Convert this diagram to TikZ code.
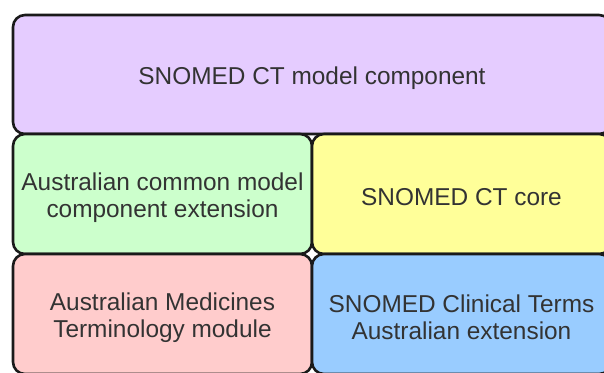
\documentclass[tikz,border=0pt]{standalone}
\usepackage{fontspec}
\setmainfont{Liberation Sans}
\definecolor{cpurple}{HTML}{E5CCFF}
\definecolor{cgreen}{HTML}{CCFFCC}
\definecolor{cyellow}{HTML}{FFFF99}
\definecolor{cpink}{HTML}{FFCCCC}
\definecolor{cblue}{HTML}{99CCFF}
\definecolor{ctext}{HTML}{333333}
\definecolor{cline}{HTML}{1A1A1A}
\tikzset{
  box/.style={rectangle, draw=cline, line width=2.6pt, rounded corners=12pt,
    inner sep=0pt, outer sep=0pt},
  boxtext/.style={align=center, text=ctext, inner sep=0pt, yshift=-3.5pt,
    font=\fontsize{24.4}{27}\selectfont},
}
\begin{document}
\begin{tikzpicture}[x=1pt,y=-1pt]
\useasboundingbox (0,0) rectangle (604,372);
\clip (0,0) rectangle (604,372);
\fill[white] (0,0) rectangle (604,372);
\node[box, fill=cpurple, minimum width=598pt, minimum height=119pt,
  label={[boxtext]center:{SNOMED CT model component}}] (top) at (312,74.5) {};
\node[box, fill=cgreen, minimum width=299pt, minimum height=120pt,
  label={[boxtext]center:{Australian common model\\component extension}}] (acm) at (162.5,194) {};
\node[box, fill=cyellow, minimum width=299pt, minimum height=120pt,
  label={[boxtext]center:{SNOMED CT core}}] (core) at (461.5,194) {};
\node[box, fill=cpink, minimum width=299pt, minimum height=120pt,
  label={[boxtext]center:{Australian Medicines\\Terminology module}}] (amt) at (162.5,314) {};
\node[box, fill=cblue, minimum width=299pt, minimum height=120pt,
  label={[boxtext]center:{SNOMED Clinical Terms\\Australian extension}}] (ext) at (461.5,314) {};
\end{tikzpicture}
\end{document}
